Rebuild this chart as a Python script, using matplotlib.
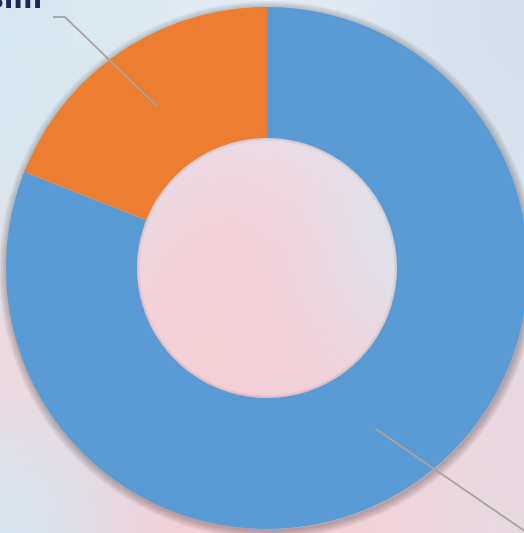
import numpy as np
import matplotlib.pyplot as plt
from matplotlib.colors import to_rgb
from matplotlib.patches import Wedge

# data
labels = ["Ekim", "Kasım"]
values = [81, 19]
colors = ["#5B9BD5", "#ED7D31"]

# blurred photo-like backdrop (rough colour grid, top row first)
bg_grid = [
    ["#d9e8f0", "#dceaf2", "#e4eef6", "#dce8f2", "#d6e0ec"],
    ["#d6e8f0", "#e8dce4", "#f4d4dc", "#e6e0ea", "#d8e2ee"],
    ["#e6e2ea", "#f6cfd6", "#f5cdd5", "#e0e2ec", "#d8ecf4"],
    ["#f3d6dc", "#f5d0d7", "#f5cfd6", "#eed4dc", "#ecd4dc"],
    ["#d6e6f0", "#f2d0d7", "#f6ced5", "#f4d2d9", "#e8dae2"],
]

W, H = 524, 533
cx, cy = 267, H - 268
r_out, r_in = 261, 130

fig = plt.figure(figsize=(W / 100, H / 100), dpi=100)
ax = fig.add_axes([0, 0, 1, 1])

img = np.array([[to_rgb(c) for c in row] for row in bg_grid])
ax.imshow(img, extent=(0, W, 0, H), interpolation="bicubic", zorder=0)

# soft shadow just outside the ring
for k in range(1, 9):
    ax.add_patch(Wedge((cx + 1, cy - 2), r_out + k, 0, 360, width=k + 2,
                       color="black", alpha=0.03, lw=0, zorder=1))

wedges, _ = ax.pie(values, colors=colors, startangle=90, counterclock=False,
                   center=(cx, cy), radius=r_out,
                   wedgeprops=dict(width=r_out - r_in, linewidth=0),
                   normalize=True)
for w in wedges:
    w.set_zorder(2)

# faint shadow on inner edge of hole
for k in range(1, 4):
    ax.add_patch(Wedge((cx, cy), r_in, 0, 360, width=k, color="black",
                       alpha=0.03, lw=0, zorder=3))

# leader lines and labels
line_col = "#A5A5A5"
r_mid = (r_out + r_in) / 2
text_pos = {1: (65, H - 17), 0: (640, H - 610)}
for i, w in enumerate(wedges):
    ang = np.deg2rad((w.theta1 + w.theta2) / 2)
    p = (cx + r_mid * np.cos(ang), cy + r_mid * np.sin(ang))
    ex, ey = text_pos[i]
    if i == 1:
        ax.plot([p[0], ex, ex - 12], [p[1], ey, ey], color=line_col,
                lw=1.3, zorder=4, solid_capstyle="butt")
        ax.text(ex - 22, ey + 9, labels[i], ha="right", va="baseline",
                fontsize=20, fontweight="bold", color="#1B2A55",
                family="DejaVu Sans", zorder=5)
    else:
        ax.plot([p[0], ex], [p[1], ey], color=line_col, lw=1.3, zorder=4)

ax.set_xlim(0, W)
ax.set_ylim(0, H)
ax.set_aspect("auto")
ax.axis("off")

fig.savefig("out.png", dpi=100)
